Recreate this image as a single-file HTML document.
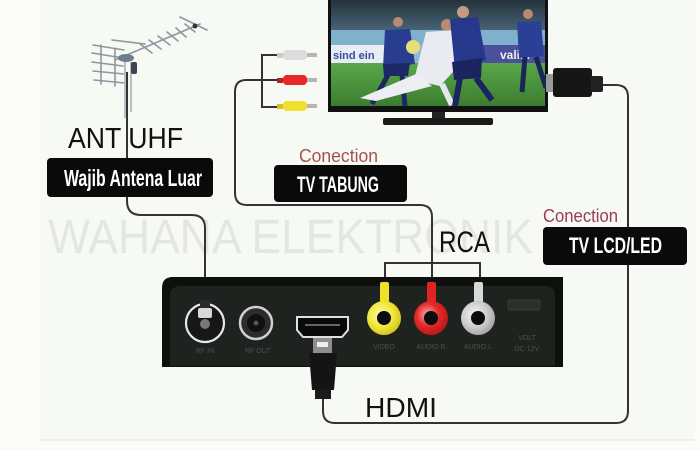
<!DOCTYPE html>
<html><head><meta charset="utf-8"><style>
html,body{margin:0;padding:0;background:#fbfcfa;}
svg{display:block;}
</style></head><body>
<svg width="700" height="450" viewBox="0 0 700 450" xmlns="http://www.w3.org/2000/svg" font-family="'Liberation Sans', sans-serif">
<defs>
<linearGradient id="stand" x1="0" y1="0" x2="0" y2="1"><stop offset="0" stop-color="#24323c"/><stop offset="1" stop-color="#4d6a7c"/></linearGradient>
<linearGradient id="pitch" x1="0" y1="0" x2="0" y2="1"><stop offset="0" stop-color="#5aa84a"/><stop offset="1" stop-color="#3b7d30"/></linearGradient>
<radialGradient id="yel" cx="0.4" cy="0.4" r="0.6"><stop offset="0" stop-color="#fbf7b0"/><stop offset="0.6" stop-color="#f2e83a"/><stop offset="1" stop-color="#d8c820"/></radialGradient>
<radialGradient id="red" cx="0.4" cy="0.4" r="0.6"><stop offset="0" stop-color="#f7b0b0"/><stop offset="0.55" stop-color="#e52a2a"/><stop offset="1" stop-color="#c01818"/></radialGradient>
<radialGradient id="wht" cx="0.4" cy="0.4" r="0.6"><stop offset="0" stop-color="#f4f4f4"/><stop offset="0.6" stop-color="#cfcfcf"/><stop offset="1" stop-color="#a8a8a8"/></radialGradient>
</defs>
<rect x="0" y="0" width="700" height="450" fill="#fbfcfa"/>
<rect x="40" y="0" width="655" height="440" fill="#f7f9f5"/>
<line x1="40" y1="440" x2="695" y2="440" stroke="#eceeeb" stroke-width="2"/>

<!-- watermark -->
<text x="48" y="253" font-size="48" fill="#e4e6e3" textLength="485" lengthAdjust="spacingAndGlyphs">WAHANA ELEKTRONIK</text>

<!-- antenna -->
<g stroke="#8e979e" stroke-width="1.6" fill="none" stroke-linecap="round">
<line x1="115" y1="60" x2="200" y2="24"/>
<line x1="93" y1="45" x2="124" y2="50"/>
<line x1="92" y1="53" x2="123" y2="58"/>
<line x1="92" y1="62" x2="123" y2="66"/>
<line x1="93" y1="71" x2="124" y2="74"/>
<line x1="94" y1="80" x2="125" y2="83"/>
<line x1="101" y1="45" x2="101" y2="84"/>
<line x1="115" y1="48" x2="115" y2="86"/>
<line x1="140" y1="44" x2="152" y2="53"/>
<line x1="149" y1="40" x2="161" y2="49"/>
<line x1="158" y1="36" x2="170" y2="45"/>
<line x1="167" y1="32" x2="178" y2="41"/>
<line x1="176" y1="28" x2="186" y2="37"/>
<line x1="185" y1="24" x2="195" y2="32"/>
<line x1="180" y1="17" x2="207" y2="30"/>
<line x1="112" y1="40" x2="145" y2="44"/>
</g>
<g stroke="#b8c0c4" stroke-width="2">
<line x1="125" y1="62" x2="125" y2="118"/>
<line x1="131" y1="62" x2="131" y2="112"/>
</g>
<ellipse cx="126" cy="58" rx="8" ry="4" fill="#6d7f8e"/>
<rect x="131" y="62" width="6" height="12" rx="2" fill="#3a4652"/>
<circle cx="195" cy="26" r="2.5" fill="#333"/>

<!-- cables -->
<g stroke="#333" stroke-width="2" fill="none">
<path d="M127,72 L127,201 Q127,215 141,215 L192,215 Q205,215 205,228 L205,300"/>
<path d="M262,80 L246,80 Q235,80 235,92 L235,193 Q235,205 247,205 L420,205 Q432,205 432,217 L432,285"/>
<path d="M278,55 L262,55 L262,107 L278,107 M262,80 L278,80"/>
<path d="M385,285 L385,263 L480,263 L480,285"/>
<path d="M603,85 L616,85 Q628,85 628,97 L628,411 Q628,423 616,423 L335,423 Q323,423 323,411 L323,396"/>
</g>
<rect x="201" y="282" width="8" height="26" fill="#2a2a2a"/>

<!-- RCA plugs near TV -->
<g>
<rect x="277" y="53" width="6" height="5" fill="#ccc"/>
<rect x="283" y="50" width="24" height="10" rx="4" fill="#dcdcdc"/>
<rect x="307" y="53" width="10" height="4" fill="#b5b5b5"/>
<rect x="277" y="78" width="6" height="5" fill="#c02020"/>
<rect x="283" y="75" width="24" height="10" rx="4" fill="#e52828"/>
<rect x="307" y="78" width="10" height="4" fill="#b5b5b5"/>
<rect x="277" y="104" width="6" height="5" fill="#d8c020"/>
<rect x="283" y="101" width="24" height="10" rx="4" fill="#f2e030"/>
<rect x="307" y="104" width="10" height="4" fill="#b5b5b5"/>
</g>

<!-- TV -->
<rect x="328" y="0" width="220" height="112" fill="#111"/>
<rect x="331" y="0" width="214" height="106" fill="url(#pitch)"/>
<rect x="331" y="0" width="214" height="34" fill="url(#stand)"/>
<rect x="331" y="30" width="214" height="16" fill="#7fb0cc"/>
<rect x="331" y="45" width="75" height="18" fill="#e6edf4"/>
<text x="333" y="59" font-size="11" font-weight="bold" fill="#3a4aa0">sind ein</text>
<rect x="406" y="45" width="70" height="18" fill="#8fb7d6"/>
<rect x="476" y="45" width="69" height="18" fill="#4c4f9c"/>
<text x="500" y="59" font-size="12" font-weight="bold" fill="#f0f0f0">valiar</text>
<rect x="331" y="63" width="214" height="43" fill="url(#pitch)"/>
<!-- players -->
<g>
<circle cx="398" cy="22" r="5" fill="#b98a70"/>
<path d="M385,30 L410,29 L415,64 L383,68 Z" fill="#283c90"/>
<path d="M383,64 L410,63 L408,76 L384,76 Z" fill="#1d2866"/>
<path d="M388,75 L372,104 M402,75 L405,106" stroke="#1d2660" stroke-width="5"/>
<circle cx="447" cy="25" r="6" fill="#b88a70"/>
<path d="M426,32 L456,30 L464,60 L440,86 L414,80 Z" fill="#e9ebf1"/>
<path d="M416,74 L432,86 L376,101 L360,98 Z" fill="#eceef3"/>
<path d="M442,84 L452,105" stroke="#e5e7ee" stroke-width="6"/>
<circle cx="463" cy="12" r="6" fill="#c69a80"/>
<path d="M450,19 L478,17 L486,60 L455,70 Z" fill="#26388c"/>
<path d="M452,62 L482,58 L481,78 L454,80 Z" fill="#1a2560"/>
<path d="M460,78 L455,106 M476,78 L492,100" stroke="#1a2560" stroke-width="6"/>
<circle cx="528" cy="14" r="5" fill="#b88a70"/>
<path d="M517,22 L541,21 L544,56 L519,58 Z" fill="#2b3f96"/>
<path d="M525,57 L522,92 M536,57 L546,88" stroke="#1c2558" stroke-width="5"/>
<circle cx="413" cy="47" r="7" fill="#e6df78"/>
</g>
<rect x="432" y="112" width="13" height="7" fill="#222"/>
<rect x="383" y="118" width="110" height="7" rx="2" fill="#1a1a1a"/>

<!-- TV HDMI plug -->
<rect x="546" y="74" width="8" height="18" fill="#9a9a9a"/>
<rect x="553" y="68" width="39" height="29" rx="3" fill="#161616"/>
<rect x="591" y="76" width="12" height="16" rx="2" fill="#222"/>

<!-- set-top box -->
<path d="M173,277 L563,277 L563,367 L162,367 L162,288 Q162,277 173,277 Z" fill="#0e100e"/>
<path d="M181,286 L545,286 Q555,286 555,296 L555,366 L170,366 L170,297 Q170,286 181,286 Z" fill="#1f231f"/>
<!-- RF IN -->
<circle cx="205" cy="323" r="19" fill="#161816" stroke="#e8e8e8" stroke-width="2.2"/>
<rect x="200" y="300" width="10" height="10" fill="#2a2a2a"/>
<rect x="198" y="308" width="14" height="10" rx="2" fill="#d8d8d8"/>
<circle cx="205" cy="324" r="5" fill="#777"/>
<!-- RF OUT -->
<circle cx="256" cy="323" r="16" fill="#2a2d2a" stroke="#cfcfcf" stroke-width="2.5"/>
<circle cx="256" cy="323" r="9" fill="#111"/>
<circle cx="256" cy="323" r="2.5" fill="#555"/>
<!-- HDMI port -->
<path d="M297,317 L348,317 L348,330 L342,337 L303,337 L297,330 Z" fill="#0a0a0a" stroke="#e0e0e0" stroke-width="2"/>
<line x1="305" y1="325" x2="340" y2="325" stroke="#666" stroke-width="2"/>
<!-- HDMI plug -->
<rect x="313" y="338" width="19" height="16" fill="#8e8e8e"/>
<rect x="317" y="342" width="11" height="5" fill="#eee"/>
<path d="M309,353 L337,353 L334,390 L312,390 Z" fill="#141414"/>
<rect x="315" y="389" width="16" height="10" fill="#1b1b1b"/>
<!-- RCA jacks -->
<g>
<rect x="380" y="282" width="9" height="26" rx="2" fill="#f0e028"/>
<circle cx="384" cy="318" r="17" fill="url(#yel)"/>
<circle cx="384" cy="318" r="7" fill="#0c0c14"/>
<rect x="427" y="282" width="9" height="26" rx="2" fill="#e02424"/>
<circle cx="431" cy="318" r="17" fill="url(#red)"/>
<circle cx="431" cy="318" r="7" fill="#0c0c0c"/>
<rect x="474" y="282" width="9" height="26" rx="2" fill="#d8d8d8"/>
<circle cx="478" cy="318" r="17" fill="url(#wht)"/>
<circle cx="478" cy="318" r="7" fill="#0c0c0c"/>
</g>
<!-- DC -->
<rect x="508" y="300" width="32" height="10" rx="2" fill="#2c2f2c" stroke="#3a3d3a"/>
<g font-size="7" fill="#4c504c" text-anchor="middle">
<text x="205" y="353">RF IN</text>
<text x="258" y="353">RF OUT</text>
<text x="384" y="349">VIDEO</text>
<text x="431" y="349">AUDIO R</text>
<text x="478" y="349">AUDIO L</text>
<text x="527" y="340">VOLT</text>
<text x="527" y="351">DC 12V</text>
</g>

<!-- labels -->
<text x="68" y="148" font-size="29" fill="#111" textLength="115" lengthAdjust="spacingAndGlyphs">ANT UHF</text>
<line x1="127" y1="118" x2="127" y2="158" stroke="#333" stroke-width="2"/>
<rect x="47" y="158" width="166" height="39" rx="4" fill="#0a0a0a"/>
<text x="64" y="186" font-size="23" font-weight="bold" fill="#fff" textLength="138" lengthAdjust="spacingAndGlyphs">Wajib Antena Luar</text>

<text x="299" y="162" font-size="18" fill="#a5524f" textLength="79" lengthAdjust="spacingAndGlyphs">Conection</text>
<rect x="274" y="165" width="133" height="37" rx="4" fill="#0a0a0a"/>
<text x="297" y="192" font-size="22" font-weight="bold" fill="#fff" textLength="82" lengthAdjust="spacingAndGlyphs">TV TABUNG</text>

<text x="543" y="222" font-size="18" fill="#9c3a58" textLength="75" lengthAdjust="spacingAndGlyphs">Conection</text>
<rect x="543" y="227" width="144" height="38" rx="4" fill="#0a0a0a"/>
<text x="569" y="253" font-size="22" font-weight="bold" fill="#fff" textLength="93" lengthAdjust="spacingAndGlyphs">TV LCD/LED</text>

<text x="439" y="252" font-size="30" fill="#111" textLength="51" lengthAdjust="spacingAndGlyphs">RCA</text>
<text x="365" y="417" font-size="28" fill="#111" textLength="72" lengthAdjust="spacingAndGlyphs">HDMI</text>
</svg>
</body></html>
